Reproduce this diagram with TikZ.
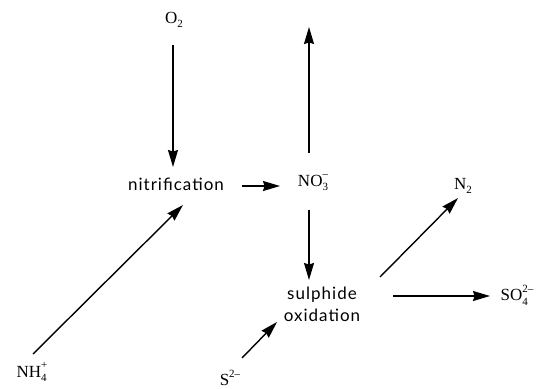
\documentclass[tikz,border=0pt]{standalone}
\usepackage{fontspec}
\setmainfont{Liberation Serif}
\newfontfamily\labfont[LetterSpace=6]{Lato}
\usetikzlibrary{arrows.meta}
\newcommand\chm[2]{%
  \setbox0\hbox{\fontsize{11}{11}\selectfont#1}%
  \setbox2\hbox{\fontsize{11}{11}\selectfont#2}%
  \ifdim\wd0>\wd2 \dimen0=\wd0 \else \dimen0=\wd2 \fi
  \makebox[\dimen0][l]{\rlap{\raisebox{0.5em}{\box2}}\raisebox{-0.25em}{\box0}}}
\begin{document}
\begin{tikzpicture}[x=1pt,y=-1pt,
  chem/.style={font=\fontsize{17}{19}\selectfont, inner sep=0pt},
  word/.style={font=\labfont\fontsize{17}{22}\selectfont, inner sep=0pt, align=center},
  arr/.style={line width=1.4pt, -{Stealth[length=17pt,width=10pt,inset=1.5pt]}}]
\useasboundingbox (0,0) rectangle (551,388);
\node[chem] (o2) at (174,20) {O\chm{2}{}};
\node[word] (nit) at (176,184) {nitrification};
\node[chem] (no3) at (313,183) {NO\chm{3}{--}};
\node[word] (sox) at (322,304) {sulphide\\oxidation};
\node[chem] (nh4) at (32,372) {NH\chm{4}{+}};
\node[chem] (s2) at (230,380) {S\chm{}{2--}};
\node[chem] (n2) at (463,186) {N\chm{2}{}};
\node[chem] (so4) at (517,295) {SO\chm{4}{2--}};
\coordinate (top) at (309,27);
% arrows
\draw[arr] ([xshift=-1]o2.center) ++(0,25) -- ([shift={(-3,-17)}]nit.center);
\draw[arr] ([shift={(66,2)}]nit.center) -- ([shift={(-33,3)}]no3.center);
\draw[arr] ([shift={(-4,-30)}]no3.center) -- (top);
\draw[arr] ([shift={(-4,27)}]no3.center) -- ([shift={(-13,-24)}]sox.center);
\draw[arr] ([shift={(1,-18)}]nh4.center) -- ([shift={(7,21)}]nit.center);
\draw[arr] ([shift={(12,-22)}]s2.center) -- ([shift={(-45,18)}]sox.center);
\draw[arr] ([shift={(58,-27)}]sox.center) -- ([shift={(-5,12)}]n2.center);
\draw[arr] ([shift={(71,-8)}]sox.center) -- ([shift={(-27,1)}]so4.center);
\end{tikzpicture}
\end{document}
